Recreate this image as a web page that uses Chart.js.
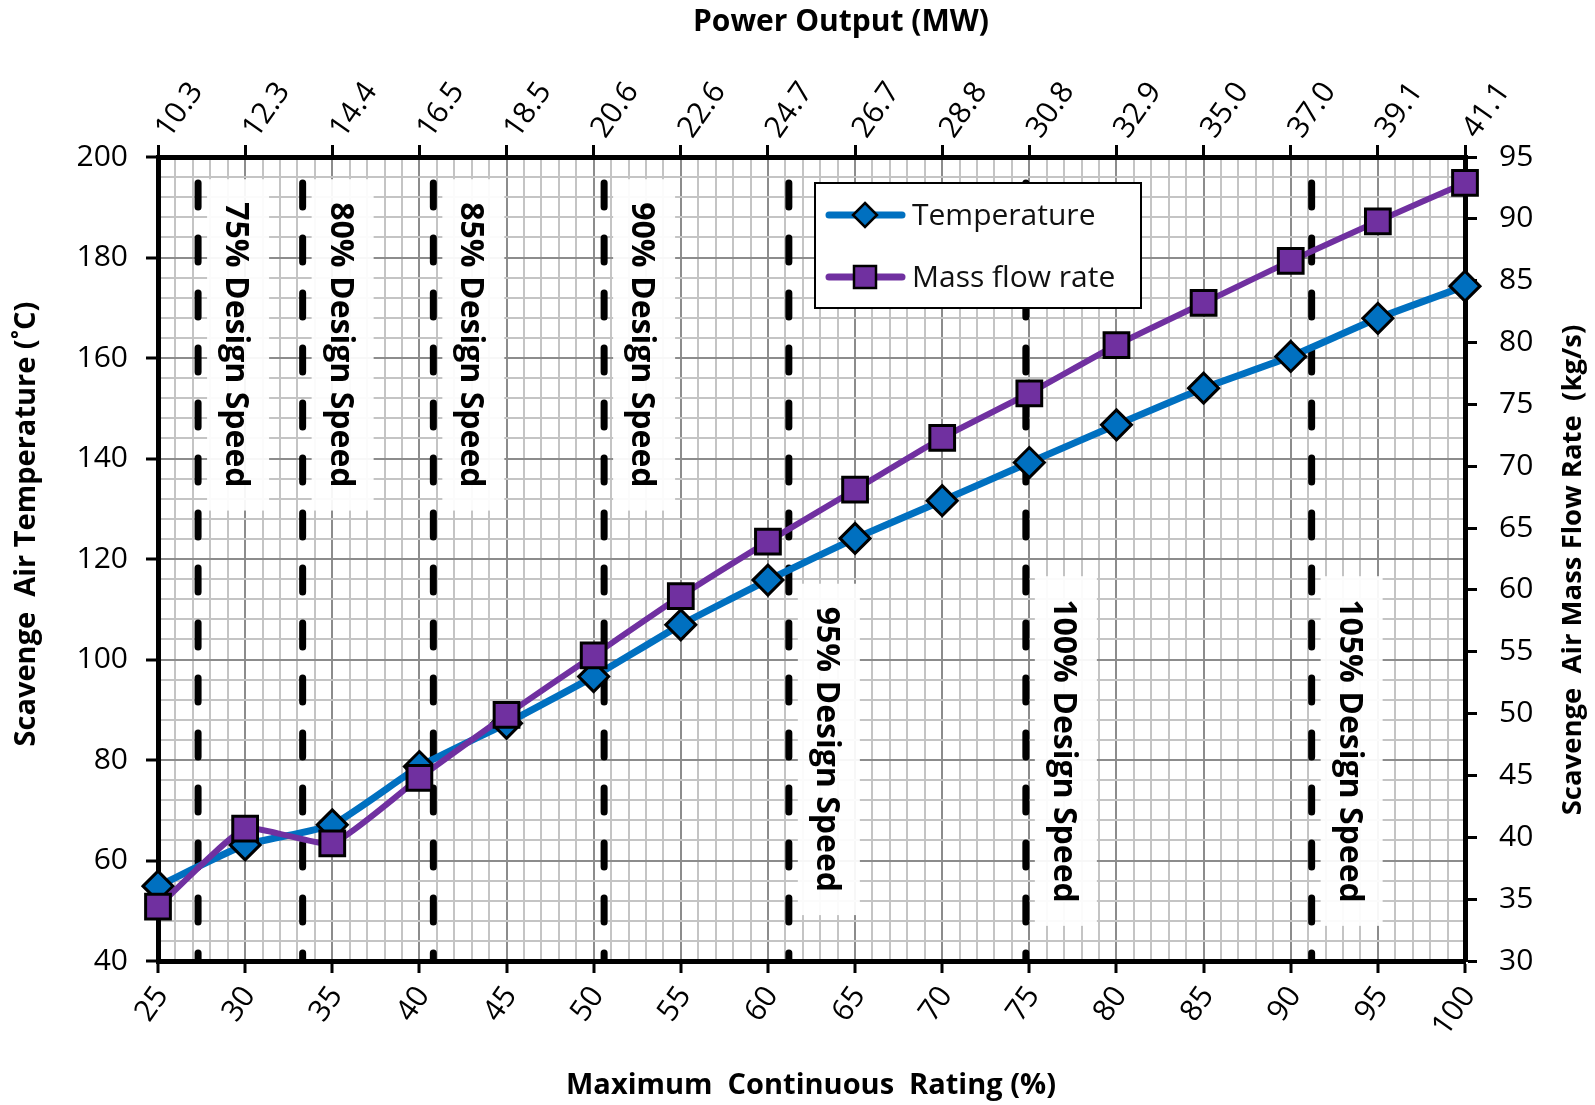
<!DOCTYPE html>
<html>
<head>
<meta charset="utf-8">
<script src="https://cdn.jsdelivr.net/npm/chart.js@4.4.0/dist/chart.umd.min.js"></script>
<style>
  body { margin: 0; background: #fff; }
  canvas { display: block; }
</style>
</head>
<body>
<canvas id="my-chart" width="1595" height="1105"></canvas>
<script>
'use strict';

// MCR (%) on the bottom axis
let mcrValues = [25, 30, 35, 40, 45, 50, 55, 60, 65, 70, 75, 80, 85, 90, 95, 100];

// scavenge air temperature (C), left axis
let temperatureValues = [54.9, 63.1, 67.1, 78.7, 87.3, 96.6, 106.9, 115.8, 124.1, 131.6, 139.2, 146.7, 154.0, 160.3, 167.9, 174.3];

// scavenge air mass flow (kg/s), right axis
let massFlowValues = [34.4, 40.7, 39.5, 44.8, 49.9, 54.7, 59.5, 63.9, 68.1, 72.3, 75.9, 79.8, 83.2, 86.6, 89.8, 92.9];

// power output (MW) shown on the top axis, one per MCR tick
let powerLabels = ['10.3', '12.3', '14.4', '16.5', '18.5', '20.6', '22.6', '24.7', '26.7', '28.8', '30.8', '32.9', '35.0', '37.0', '39.1', '41.1'];

// design speed markers (MCR %)
let speedLabels = ['75% Design Speed', '80% Design Speed', '85% Design Speed', '90% Design Speed', '95% Design Speed', '100% Design Speed', '105% Design Speed'];
let speedMcr = [27.3, 33.3, 40.8, 50.6, 61.2, 74.8, 91.2];

// where the speed labels start (left axis units)
let labelTops = [191, 191, 191, 191, 110.5, 112, 112];

let canvasElem = document.getElementById('my-chart');

const BLUE = '#0070c0';
const PURPLE = '#7030a0';
const tickFont = { family: '"Open Sans"', size: 30 };
const titleFont = '"Open Sans"';

function isMajor(v, step) {
  return Math.abs(Math.round(v / step) * step - v) < 1e-6;
}

let overlayPlugin = {
  id: 'overlay',
  beforeDatasetsDraw(chart) {
    const { ctx, chartArea, scales } = chart;
    ctx.save();
    ctx.beginPath();
    ctx.rect(chartArea.left, chartArea.top, chartArea.right - chartArea.left, chartArea.bottom - chartArea.top);
    ctx.clip();
    ctx.font = 'bold 32px ' + titleFont;
    for (let i = 0; i < speedMcr.length; i++) {
      let px = scales.x.getPixelForValue(speedMcr[i]);
      let top = scales.y.getPixelForValue(labelTops[i]);
      let w = ctx.measureText(speedLabels[i]).width;

      ctx.fillStyle = 'rgba(255,255,255,0.93)';
      ctx.fillRect(px + 9, top - 23, 62, w + 46);

      ctx.beginPath();
      ctx.setLineDash([24, 31]);
      ctx.lineDashOffset = 29;
      ctx.lineCap = 'round';
      ctx.lineWidth = 7;
      ctx.strokeStyle = '#000';
      ctx.moveTo(px, chartArea.top);
      ctx.lineTo(px, chartArea.bottom);
      ctx.stroke();

      ctx.save();
      ctx.translate(px + 37, top);
      ctx.rotate(Math.PI / 2);
      ctx.fillStyle = '#000';
      ctx.textAlign = 'left';
      ctx.textBaseline = 'middle';
      ctx.fillText(speedLabels[i], 0, 0);
      ctx.restore();
    }
    ctx.restore();
  },
  afterDraw(chart) {
    const { ctx, chartArea } = chart;
    ctx.save();

    // legend box
    let lx = chartArea.left + 657;
    let ly = chartArea.top + 26;
    ctx.fillStyle = '#fff';
    ctx.fillRect(lx, ly, 326, 125);
    ctx.lineWidth = 2;
    ctx.strokeStyle = '#000';
    ctx.strokeRect(lx, ly, 326, 125);

    let rows = [
      { text: 'Temperature', color: BLUE, y: ly + 32, diamond: true },
      { text: 'Mass flow rate', color: PURPLE, y: ly + 94, diamond: false }
    ];
    ctx.font = '30px ' + titleFont;
    ctx.textBaseline = 'middle';
    ctx.textAlign = 'left';
    rows.forEach(function (r) {
      ctx.beginPath();
      ctx.lineCap = 'round';
      ctx.lineWidth = 7;
      ctx.strokeStyle = r.color;
      ctx.moveTo(lx + 14, r.y);
      ctx.lineTo(lx + 87, r.y);
      ctx.stroke();
      let cx = lx + 50;
      ctx.beginPath();
      if (r.diamond) {
        ctx.moveTo(cx, r.y - 12);
        ctx.lineTo(cx + 12, r.y);
        ctx.lineTo(cx, r.y + 12);
        ctx.lineTo(cx - 12, r.y);
        ctx.closePath();
      } else {
        ctx.rect(cx - 11, r.y - 11, 22, 22);
      }
      ctx.fillStyle = r.color;
      ctx.fill();
      ctx.lineWidth = 2.5;
      ctx.strokeStyle = '#000';
      ctx.stroke();
      ctx.fillStyle = '#111';
      ctx.fillText(r.text, lx + 97, r.y + 1);
    });

    // axis titles
    ctx.fillStyle = '#000';
    ctx.textAlign = 'center';
    ctx.textBaseline = 'middle';
    ctx.font = 'bold 30px ' + titleFont;
    ctx.fillText('Power Output (MW)', 841, 22);
    ctx.font = 'bold 29px ' + titleFont;
    ctx.fillText('Maximum  Continuous  Rating (%)', 811, 1086);

    ctx.save();
    ctx.translate(27, 524);
    ctx.rotate(-Math.PI / 2);
    ctx.fillText('Scavenge  Air Temperature (˚C)', 0, 0);
    ctx.restore();

    ctx.font = 'bold 27.5px ' + titleFont;
    ctx.save();
    ctx.translate(1573, 570);
    ctx.rotate(-Math.PI / 2);
    ctx.fillText('Scavenge  Air Mass Flow Rate  (kg/s)', 0, 0);
    ctx.restore();

    ctx.restore();
  }
};

function renderChart() {

  let tempPoints = [];
  let massPoints = [];
  for (let i = 0; i < mcrValues.length; i++) {
    tempPoints.push({ x: mcrValues[i], y: temperatureValues[i] });
    massPoints.push({ x: mcrValues[i], y: massFlowValues[i] });
  }

  let chartObj = {
    type: 'line',
    data: {
      datasets: [{
        label: 'Temperature',
        data: tempPoints,
        yAxisID: 'y',
        order: 1,
        borderColor: BLUE,
        backgroundColor: BLUE,
        borderWidth: 7,
        tension: 0.15,
        pointStyle: 'rectRot',
        pointRadius: 15,
        pointBorderWidth: 3,
        pointBorderColor: '#000',
        pointBackgroundColor: BLUE,
        clip: false
      },
      {
        label: 'Mass flow rate',
        data: massPoints,
        yAxisID: 'y1',
        order: 0,
        borderColor: PURPLE,
        backgroundColor: PURPLE,
        borderWidth: 6,
        tension: 0.15,
        pointStyle: 'rect',
        pointRadius: 17.5,
        pointBorderWidth: 3,
        pointBorderColor: '#000',
        pointBackgroundColor: PURPLE,
        clip: false
      }]
    },
    options: {
      responsive: false,
      animation: false,
      layout: { padding: 0 },
      plugins: {
        legend: { display: false },
        tooltip: { enabled: false }
      },
      scales: {
        x: {
          type: 'linear',
          position: 'bottom',
          min: 25,
          max: 100,
          afterFit: function (s) { s.height = 144; },
          border: { color: '#000', width: 5 },
          grid: {
            color: (c) => isMajor(c.tick.value, 5) ? '#8c8c8c' : '#c4c4c4',
            lineWidth: 2,
            tickColor: (c) => isMajor(c.tick.value, 5) ? '#000' : 'rgba(0,0,0,0)',
            tickLength: 12,
            tickWidth: 3
          },
          ticks: {
            stepSize: 1,
            autoSkip: false,
            minRotation: 55,
            maxRotation: 55,
            padding: 7,
            labelOffset: 4,
            color: '#000',
            font: tickFont,
            callback: (v) => isMajor(v, 5) ? String(v) : ''
          }
        },
        x2: {
          type: 'linear',
          position: 'top',
          min: 25,
          max: 100,
          afterFit: function (s) { s.height = 157; },
          border: { color: '#000', width: 5 },
          grid: {
            drawOnChartArea: false,
            tickColor: '#000',
            tickLength: 12,
            tickWidth: 3
          },
          ticks: {
            stepSize: 5,
            autoSkip: false,
            minRotation: 55,
            maxRotation: 55,
            padding: 0,
            labelOffset: 34,
            color: '#000',
            font: tickFont,
            callback: (v) => powerLabels[Math.round((v - 25) / 5)]
          }
        },
        y: {
          position: 'left',
          min: 40,
          max: 200,
          afterFit: function (s) { s.width = 158; },
          border: { color: '#000', width: 5 },
          grid: {
            color: (c) => isMajor(c.tick.value, 20) ? '#8c8c8c' : '#c4c4c4',
            lineWidth: 2,
            tickColor: (c) => isMajor(c.tick.value, 20) ? '#000' : 'rgba(0,0,0,0)',
            tickLength: 12,
            tickWidth: 3
          },
          ticks: {
            stepSize: 4,
            autoSkip: false,
            padding: 18,
            color: '#000',
            font: tickFont,
            callback: (v) => isMajor(v, 20) ? String(v) : ''
          }
        },
        y1: {
          position: 'right',
          min: 30,
          max: 95,
          afterFit: function (s) { s.width = 130; },
          border: { color: '#000', width: 5 },
          grid: {
            drawOnChartArea: false,
            tickColor: '#000',
            tickLength: 12,
            tickWidth: 3
          },
          ticks: {
            stepSize: 5,
            autoSkip: false,
            padding: 22,
            color: '#000',
            font: tickFont
          }
        }
      }
    },
    plugins: [overlayPlugin]
  };

  new Chart(canvasElem, chartObj); //eslint-disable-line
}

renderChart();
</script>
</body>
</html>
